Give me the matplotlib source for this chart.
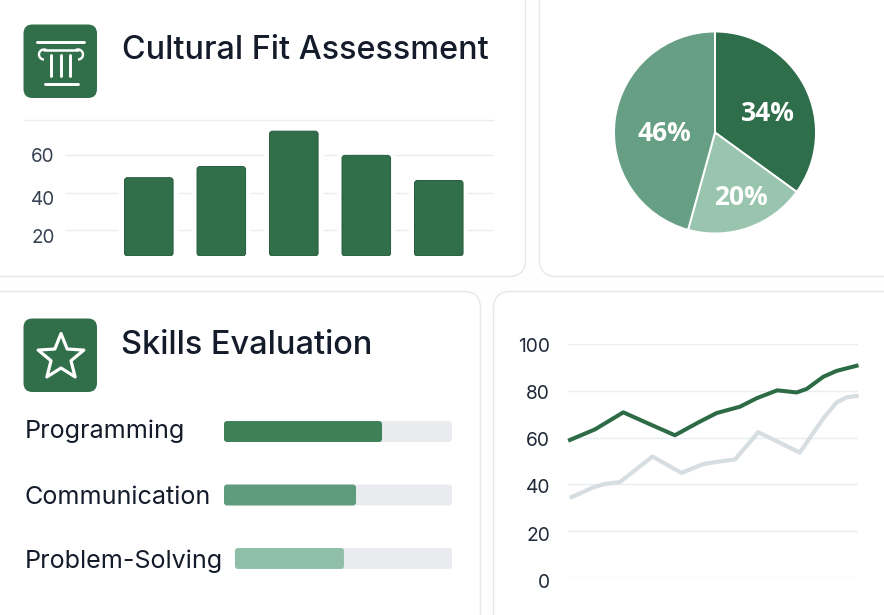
"""
Hiring dashboard cards: cultural fit bars, split pie, skills bars, trend lines.
"""

import numpy as np
import matplotlib
matplotlib.use("Agg")
import matplotlib.pyplot as plt
from matplotlib.patches import FancyBboxPatch, Polygon, Arc
from matplotlib.transforms import ScaledTranslation

plt.rcParams["font.family"] = ["Inter", "Liberation Sans", "DejaVu Sans"]

W, H = 884, 615
GREEN = "#316f4b"
GRID = "#e8edf1"
BORDER = "#e4e8ec"
INK = "#141c2b"

# cultural fit bars
fit_ticks = [20, 40, 60]
fit_values = [48, 54, 73, 60, 46.5]
fit_bottom = 5.9

# pie
pie_sizes = [35, 19.3, 45.7]
pie_labels = ["34%", "20%", "46%"]
pie_colors = ["#2f6e4a", "#99c5ae", "#669f83"]

# skills
skill_names = ["Programming", "Communication", "Problem-Solving"]
skill_start = [0, 0, 4.8]
skill_end = [69.3, 57.9, 52.6]
skill_colors = ["#3e8159", "#5f9c7d", "#8fbfa6"]

# trend lines
trend_ticks = [0, 20, 40, 60, 80, 100]
green_x = [0, 8.7, 18.6, 27.9, 36.6, 44.8, 51.2, 59.3, 65.1, 72.3, 79.1, 82.6, 88.4, 93, 100]
green_y = [59, 63.5, 70.8, 65.7, 61, 66.5, 70.5, 73.2, 76.8, 80.2, 79.3, 80.8, 86, 88.5, 90.7]
gray_x = [0.6, 8.1, 12.2, 17.4, 28.8, 38.9, 46.5, 51.2, 57.6, 65.7, 80.2, 88.4, 93, 96.5, 100]
gray_y = [34.6, 38.7, 40.2, 41, 51.9, 44.9, 48.7, 49.6, 50.7, 62.3, 53.6, 68.2, 75, 77.2, 77.8]


def px_axes(fig, left, top, right, bottom):
    """Axes placed by pixel edges, y measured from the top of the picture."""
    ax = fig.add_axes([left / W, 1 - bottom / H, (right - left) / W, (bottom - top) / H])
    ax.patch.set_alpha(0)
    for side in ax.spines.values():
        side.set_visible(False)
    return ax


def round_bar(ax, x0, y0, w, h, radius, **kw):
    """Rounded rectangle in data units, radius given in pixels."""
    bbox = ax.get_position()
    xl, yl = ax.get_xlim(), ax.get_ylim()
    ux = bbox.width * W / abs(xl[1] - xl[0])
    uy = bbox.height * H / abs(yl[1] - yl[0])
    patch = FancyBboxPatch((x0, y0), w, h, boxstyle=f"round,pad=0,rounding_size={radius / ux}",
                           mutation_aspect=ux / uy, **kw)
    ax.add_patch(patch)
    return patch


def shift_label(ax, lab, shift_px):
    lab.set_transform(lab.get_transform() + ScaledTranslation(0, -shift_px / 100, ax.figure.dpi_scale_trans))


fig = plt.figure(figsize=(W / 100, H / 100), dpi=100, facecolor="#fefefe")

# page layer in pixel coordinates: cards, icons, titles
bg = fig.add_axes([0, 0, 1, 1])
bg.set_xlim(0, W)
bg.set_ylim(H, 0)
bg.axis("off")

for (x0, y0, x1, y1) in [(-20, -20, 525.5, 276.5), (539.5, -20, 920, 276.5),
                         (-20, 291.5, 480.5, 640), (493.5, 291.5, 920, 640)]:
    bg.add_patch(FancyBboxPatch((x0, y0), x1 - x0, y1 - y0, boxstyle="round,pad=0,rounding_size=17",
                                fc="white", ec=BORDER, lw=1.0))

for (x0, y0) in [(23.5, 24.5), (23.5, 318.5)]:
    bg.add_patch(FancyBboxPatch((x0, y0), 73.5, 73.5, boxstyle="round,pad=0,rounding_size=9",
                                fc=GREEN, ec="none"))

# pillar icon
icon = dict(color="white", lw=2.1, solid_capstyle="round")
bg.plot([36.5, 84], [41.5, 41.5], **icon)
bg.plot([44.5, 78], [83.5, 83.5], **icon)
bg.plot([44, 78], [49.5, 49.5], lw=1.8, color="white", solid_capstyle="round")
for cx, a, b in [(44, 90, 300), (78, 240, 90)]:
    bg.add_patch(Arc((cx, 54.5), 10, 10, theta1=a, theta2=b, color="white", lw=1.7))
for x in [50.7, 60.8, 70.3]:
    bg.plot([x, x], [55, 76], **icon)

# star icon
ang = np.deg2rad(-90 + 36 * np.arange(10))
rad = np.where(np.arange(10) % 2 == 0, 24, 10.5)
bg.add_patch(Polygon(np.c_[61 + rad * np.cos(ang), 357.5 + rad * np.sin(ang)], closed=True,
                     fc="none", ec="white", lw=2.3, joinstyle="round"))

bg.text(122, 50.5, "Cultural Fit Assessment", fontsize=23.3, color=INK, va="center", ha="left", fontweight=500)
bg.text(121, 345, "Skills Evaluation", fontsize=23.4, color=INK, va="center", ha="left", fontweight=500)
bg.plot([24, 493], [120, 120], color=GRID, lw=1.0)

# cultural fit bars
ax1 = px_axes(fig, 65, 120, 493, 256)
ax1.set_xlim(-1.156, 4.748)
ax1.set_ylim(fit_bottom, 79)
ax1.set_xticks([])
ax1.set_yticks(fit_ticks, [str(t) for t in fit_ticks])
ax1.tick_params(axis="y", length=0, pad=7.5, labelsize=13.6, labelcolor="#374151")
ax1.grid(axis="y", color=GRID, lw=1.0)
ax1.set_axisbelow(True)
for i, val in enumerate(fit_values):
    # white halo first, it breaks the grid lines around each bar
    ax1.bar(i, val - fit_bottom, 0.82, bottom=fit_bottom, color="white", zorder=2)
    round_bar(ax1, i - 0.335, fit_bottom, 0.67, val - fit_bottom, 3, fc=GREEN, ec="#265c3d", lw=0.7, zorder=3)
for lab, dy in zip(ax1.get_yticklabels(), [6.5, 5.5, 0]):
    shift_label(ax1, lab, dy)

# pie
ax2 = px_axes(fig, 614, 31.5, 816, 233.5)
wedges, _ = ax2.pie(pie_sizes, colors=pie_colors, startangle=90, counterclock=False, radius=1,
                    wedgeprops=dict(edgecolor="white", linewidth=1.4))
ax2.set_xlim(-1, 1)
ax2.set_ylim(-1, 1)
for lab, (x, y) in zip(pie_labels, [(0.52, 0.19), (0.26, -0.645), (-0.5, -0.01)]):
    ax2.text(x, y, lab, color="white", fontsize=19, fontweight="bold", ha="center", va="center",
             family=["Open Sans", "DejaVu Sans"])

# skills
ax3 = px_axes(fig, 224, 410, 452, 580)
ax3.set_xlim(0, 100)
ax3.set_ylim(2.339, -0.339)
ax3.set_xticks([])
ax3.set_yticks(range(len(skill_names)), skill_names)
ax3.tick_params(axis="y", length=0, pad=143.5, labelsize=18.1, labelcolor=INK)
for lab, dy in zip(ax3.get_yticklabels(), [-2.5, 0, 0]):
    lab.set_ha("left")
    shift_label(ax3, lab, dy)
for i, (s, e, c) in enumerate(zip(skill_start, skill_end, skill_colors)):
    round_bar(ax3, s, i - 0.165, 100 - s, 0.33, 3, fc="#e9ebee", ec="none", zorder=2)
    round_bar(ax3, s, i - 0.165, e - s, 0.33, 3, fc=c, ec="none", zorder=3)

# trend lines
ax4 = px_axes(fig, 568, 344, 858, 578)
ax4.set_xlim(-0.7, 100.5)
ax4.set_ylim(0, 100)
ax4.set_xticks([])
ax4.set_yticks(trend_ticks, [str(t) for t in trend_ticks])
ax4.tick_params(axis="y", length=0, pad=13, labelsize=13.8, labelcolor="#1f2937")
ax4.grid(axis="y", color=GRID, lw=1.0)
ax4.set_axisbelow(True)
ax4.plot(gray_x, gray_y, color="#d6dee1", lw=3.0, solid_joinstyle="round", clip_on=False, zorder=3)
ax4.plot(green_x, green_y, color="#2c6b45", lw=2.9, solid_joinstyle="round", clip_on=False, zorder=4)
for lab, dy in zip(ax4.get_yticklabels(), [3, 2.5, 2, 1, 1, 1]):
    shift_label(ax4, lab, dy)

fig.savefig("out.png", dpi=100)
